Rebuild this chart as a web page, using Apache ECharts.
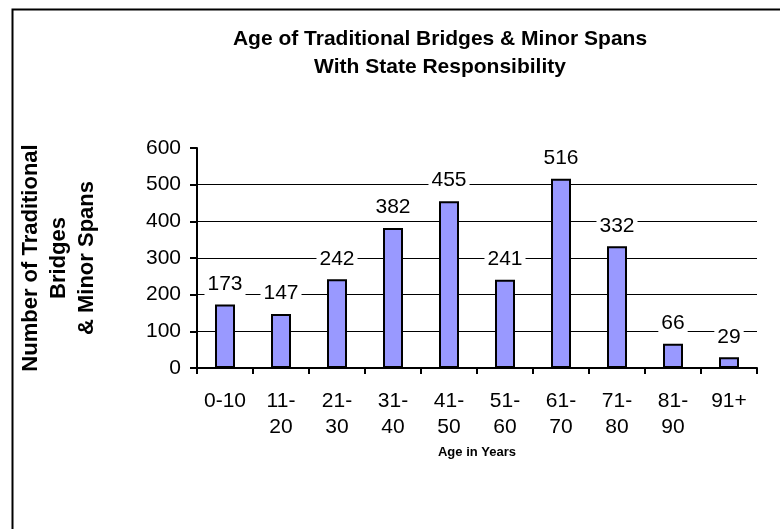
<!DOCTYPE html>
<html>
<head>
<meta charset="utf-8">
<script src="https://cdn.jsdelivr.net/npm/echarts@6/dist/echarts.min.js"></script>
<style>
html,body{margin:0;padding:0;background:#fff;}
#chart{width:780px;height:529px;}
</style>
</head>
<body>
<div id="chart"></div>
<script>
const titleLines = ['Age of Traditional Bridges & Minor Spans', 'With State Responsibility'];
const categories = ['0-10', '11-20', '21-30', '31-40', '41-50', '51-60', '61-70', '71-80', '81-90', '91+'];
const bridgeCounts = [173, 147, 242, 382, 455, 241, 516, 332, 66, 29];
const yTicks = [0, 100, 200, 300, 400, 500, 600];
const yAxisName = ['Number of Traditional', 'Bridges', '& Minor Spans'];
const xAxisName = 'Age in Years';

const FONT = '"Liberation Sans", Arial, sans-serif';
const chart = echarts.init(document.getElementById('chart'), null, {renderer: 'canvas'});

chart.setOption({
  backgroundColor: '#fff',
  animation: false,
  title: {
    text: titleLines.join('\n'),
    left: 435,
    top: 20,
    textAlign: 'center',
    textStyle: {fontFamily: FONT, fontSize: 21, fontWeight: 'bold', color: '#000', lineHeight: 28}
  },
  graphic: [{
    type: 'rect',
    left: 10, top: 7,
    shape: {width: 820, height: 600},
    style: {fill: 'none', stroke: '#000', lineWidth: 2},
    silent: true
  }],
  grid: {left: 197, right: 23, top: 148, bottom: 161, containLabel: false},
  xAxis: {
    type: 'category',
    data: categories,
    name: xAxisName,
    nameLocation: 'middle',
    nameGap: 78,
    nameTextStyle: {fontFamily: FONT, fontSize: 13, fontWeight: 'bold', color: '#000'},
    axisLine: {lineStyle: {color: '#000', width: 2}},
    axisTick: {show: true, length: 6, lineStyle: {color: '#000', width: 2}},
    axisLabel: {
      interval: 0,
      margin: 20,
      fontFamily: FONT, fontSize: 21, color: '#000', lineHeight: 26,
      formatter: v => v.length > 4 ? v.replace('-', '-\n') : v
    },
    splitLine: {show: false}
  },
  yAxis: {
    type: 'value',
    min: yTicks[0],
    max: yTicks[yTicks.length - 1],
    interval: yTicks[1] - yTicks[0],
    name: yAxisName.join('\n'),
    nameLocation: 'middle',
    nameRotate: 90,
    nameGap: 96,
    nameTextStyle: {fontFamily: FONT, fontSize: 22, fontWeight: 'bold', color: '#000', lineHeight: 28, align: 'center'},
    axisLine: {show: true, lineStyle: {color: '#000', width: 2}},
    axisTick: {show: true, length: 7, lineStyle: {color: '#000', width: 2}},
    axisLabel: {margin: 16, fontFamily: FONT, fontSize: 21, color: '#000'},
    splitLine: {show: true, showMaxLine: false, lineStyle: {color: ['#000', '#000', '#000', '#000', '#000', '#000', 'rgba(0,0,0,0)'], width: 1}}
  },
  series: [{
    type: 'bar',
    data: bridgeCounts,
    barWidth: 20,
    itemStyle: {color: '#9999FF', borderColor: '#000', borderWidth: 2},
    label: {
      show: true,
      position: 'top',
      distance: 8,
      fontFamily: FONT, fontSize: 21, color: '#000',
      backgroundColor: '#fff',
      padding: [2, 3, 2, 3]
    }
  }]
});
</script>
</body>
</html>
